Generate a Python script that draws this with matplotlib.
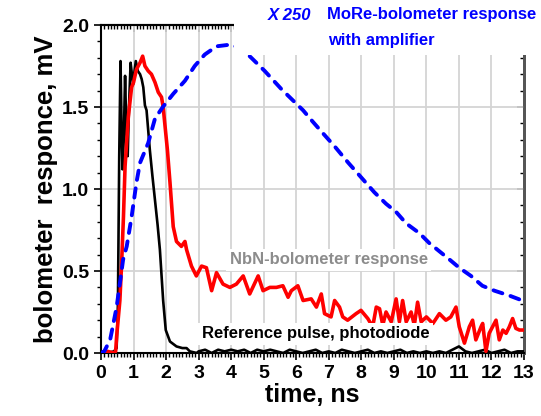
import numpy as np
import matplotlib
matplotlib.use('Agg')
import matplotlib.pyplot as plt
from matplotlib.patches import Rectangle
from matplotlib.ticker import MultipleLocator, NullFormatter

plt.rcParams['font.family'] = ['Liberation Sans', 'DejaVu Sans']
plt.rcParams['font.weight'] = 'bold'

# reference pulse (photodiode)
t_ref = [0, 0.2, 0.4, 0.48, 0.52, 0.56, 0.60, 0.63, 0.66, 0.70, 0.74, 0.78, 0.82,
         0.86, 0.91, 0.95, 0.99, 1.03, 1.07, 1.13, 1.20, 1.25, 1.30, 1.35, 1.40,
         1.45, 1.50, 1.58, 1.66, 1.74, 1.81, 1.91, 1.99, 2.12, 2.32, 2.50, 2.63,
         2.73, 2.94,
         3.0, 3.2, 3.4, 3.6, 3.8, 4.0, 4.2, 4.4, 4.6, 4.8, 5.0, 5.2, 5.4, 5.6,
         5.8, 6.0, 6.2, 6.4, 6.6, 6.8, 7.0, 7.2, 7.4, 7.6, 7.8, 8.0, 8.2, 8.4,
         8.6, 8.8, 9.0, 9.2, 9.4, 9.6, 9.8, 10.0, 10.2, 10.4, 10.6, 10.8, 11.0,
         11.2, 11.4, 11.6, 11.8, 12.0, 12.2, 12.4, 12.6, 12.8, 13.0]
v_ref = [0.01, 0.0, 0.01, 0.03, 0.30, 1.20, 1.78, 1.40, 1.12, 1.30, 1.69, 1.35, 1.20,
         1.50, 1.77, 1.70, 1.64, 1.72, 1.78, 1.72, 1.70, 1.67, 1.62, 1.51, 1.48,
         1.36, 1.24, 1.08, 0.93, 0.78, 0.63, 0.32, 0.14, 0.07, 0.04, 0.03, 0.03,
         0.01, 0.0,
         0.01, 0.02, 0.0, 0.02, 0.01, 0.02, 0.01, 0.02, 0.0, 0.02, 0.01, 0.02,
         0.01, 0.0, 0.02, 0.01, 0.0, 0.01, 0.02, 0.0, 0.01, 0.0, 0.02, 0.01,
         0.0, 0.01, 0.02, 0.0, 0.01, 0.0, 0.01, 0.02, 0.0, 0.01, 0.0, 0.01,
         0.0, 0.01, 0.0, 0.02, 0.04, 0.01, 0.0, 0.01, 0.02, 0.0, 0.01, 0.02,
         0.0, 0.01, 0.01]

# NbN bolometer response
t_nbn = [0, 0.2, 0.4, 0.45, 0.48, 0.58, 0.63, 0.69, 0.74, 0.84, 0.94, 1.0, 1.09,
         1.2, 1.28, 1.35, 1.45, 1.55, 1.66, 1.76, 1.86, 1.91, 1.96, 2.04, 2.12,
         2.22, 2.32, 2.47, 2.58, 2.63, 2.78, 2.93, 3.09, 3.24, 3.40, 3.55, 3.75,
         3.96, 4.16, 4.37, 4.57, 4.83, 4.98, 5.19, 5.39, 5.59, 5.75, 5.85, 6.05,
         6.21, 6.46, 6.62, 6.77, 6.87, 7.07, 7.18, 7.33, 7.43, 7.58, 7.84, 7.99,
         8.2, 8.35, 8.46, 8.56, 8.66, 8.76, 8.92, 9.07, 9.17, 9.27, 9.38, 9.53,
         9.63, 9.73, 9.84, 10.0, 10.2, 10.4, 10.6, 10.75, 10.91, 11.01, 11.17,
         11.32, 11.42, 11.52, 11.68, 11.73, 11.83, 11.93, 12.06, 12.14, 12.24,
         12.35, 12.45, 12.55, 12.65, 12.75, 12.86, 13.0]
v_nbn = [0.0, 0.01, 0.0, 0.01, 0.10, 0.32, 0.53, 0.83, 1.14, 1.44, 1.62, 1.65, 1.73,
         1.77, 1.81, 1.75, 1.72, 1.70, 1.65, 1.59, 1.56, 1.50, 1.40, 1.24, 1.04,
         0.77, 0.68, 0.65, 0.68, 0.63, 0.53, 0.47, 0.53, 0.52, 0.38, 0.49, 0.42,
         0.40, 0.42, 0.47, 0.36, 0.47, 0.38, 0.40, 0.40, 0.41, 0.34, 0.38, 0.41,
         0.32, 0.33, 0.28, 0.36, 0.24, 0.22, 0.32, 0.28, 0.22, 0.20, 0.24, 0.26,
         0.21, 0.16, 0.28, 0.27, 0.17, 0.25, 0.19, 0.33, 0.19, 0.32, 0.19, 0.25,
         0.17, 0.31, 0.19, 0.22, 0.18, 0.24, 0.20, 0.22, 0.28, 0.16, 0.06,
         0.16, 0.20, 0.08, 0.16, 0.18, 0.01, 0.12, 0.17, 0.20, 0.08,
         0.14, 0.12, 0.16, 0.21, 0.15, 0.14, 0.14]

# MoRe bolometer response with amplifier (x250)
t_more = [0, 0.1, 0.28, 0.48, 0.68, 0.79, 0.94, 1.09, 1.2, 1.45, 1.66, 1.9, 2.22,
          2.58, 2.88, 3.19, 3.55, 3.96, 4.3, 4.62, 5.03, 5.54, 5.9, 6.21, 6.51,
          6.82, 7.18, 7.6, 8.0, 8.4, 8.76, 9.07, 9.38, 9.79, 10.09, 10.4, 10.71,
          11.01, 11.37, 11.72, 12.09, 12.55, 12.95, 13.0]
v_more = [0.0, 0.01, 0.08, 0.28, 0.57, 0.65, 0.83, 1.04, 1.16, 1.28, 1.43, 1.50, 1.58,
          1.66, 1.75, 1.82, 1.87, 1.88, 1.86, 1.80, 1.72, 1.61, 1.54, 1.48, 1.41,
          1.34, 1.26, 1.16, 1.07, 0.98, 0.91, 0.86, 0.79, 0.73, 0.67, 0.62, 0.57,
          0.52, 0.47, 0.41, 0.38, 0.35, 0.32, 0.32]

fig = plt.figure(figsize=(5.41, 4.16), dpi=100)
ax = fig.add_axes([101/541, 63/416, 423/541, 328/416])

ax.plot(t_ref, v_ref, color='black', lw=1.9, zorder=3)
ax.plot(t_nbn, v_nbn, color='red', lw=2.6, zorder=4)
ax.plot(t_more, v_more, color='blue', lw=2.8, dashes=(2.4, 2.2),
        dash_capstyle='round', zorder=5)

ax.set_xlim(0, 13)
ax.set_ylim(0, 2)
ax.xaxis.set_major_locator(MultipleLocator(1))
ax.xaxis.set_minor_locator(MultipleLocator(0.1))
ax.set_yticks([0, 0.5, 1.0, 1.5, 2.0])
ax.set_yticklabels(['0.0', '0.5', '1.0', '1.5', '2.0'])
ax.yaxis.set_minor_locator(MultipleLocator(0.1))

# grid lines
for x in range(1, 13):
    ax.axvline(x, color='#d4d4d4', lw=1.3, zorder=1)
for y in [0.5, 1.0, 1.5]:
    ax.axhline(y, color='#d4d4d4', lw=1.3, zorder=1)

ax.tick_params(axis='both', which='major', labelsize=14, width=1.2,
               direction='out', length=5, top=False, right=False)
ax.tick_params(axis='both', which='minor', width=1.0, direction='out',
               length=3, top=False, right=False)
for lbl in ax.get_xticklabels() + ax.get_yticklabels():
    lbl.set_fontweight('bold')

# inward ticks on top and right
top = ax.secondary_xaxis('top')
top.xaxis.set_major_locator(MultipleLocator(1))
top.xaxis.set_minor_locator(MultipleLocator(0.1))
top.xaxis.set_major_formatter(NullFormatter())
top.tick_params(which='major', direction='in', length=5, width=1.2)
top.tick_params(which='minor', direction='in', length=3, width=1.0)
top.spines['top'].set_linewidth(1.5)
right = ax.secondary_yaxis('right')
right.yaxis.set_major_locator(MultipleLocator(0.5))
right.yaxis.set_minor_locator(MultipleLocator(0.1))
right.yaxis.set_major_formatter(NullFormatter())
right.tick_params(which='major', direction='in', length=5, width=1.2)
right.tick_params(which='minor', direction='in', length=3, width=1.0)
right.spines['right'].set_linewidth(2)
right.spines['right'].set_color('#555555')

for s in ['left', 'bottom', 'top']:
    ax.spines[s].set_linewidth(1.5)
ax.spines['right'].set_linewidth(2)
ax.spines['right'].set_color('#555555')

ax.set_xlabel('time, ns', fontsize=18, fontweight='bold', labelpad=1)
ax.set_ylabel('bolometer  responce, mV', fontsize=18.5, fontweight='bold', labelpad=3)

ax.text(7.0, 0.57, 'NbN-bolometer response', color='#8c8c8c', fontsize=12,
        fontweight='bold', ha='center', va='center', zorder=7,
        bbox=dict(facecolor='white', edgecolor='none', pad=2.5))
ax.text(6.6, 0.116, 'Reference pulse, photodiode', color='black', fontsize=12,
        fontweight='bold', ha='center', va='center', zorder=7,
        bbox=dict(facecolor='white', edgecolor='none', pad=2.5))

# white patch behind the top-right annotation
fig.patches.append(Rectangle((234/541, 1 - 55/416), 1, 55/416,
                             transform=fig.transFigure, facecolor='white',
                             edgecolor='none', zorder=5))
fig.text(268/541, 1 - 15/416, 'X 250', color='blue', fontsize=12,
         fontweight='bold', style='italic', va='center', ha='left', zorder=6)
fig.text(327/541, 1 - 15/416, 'MoRe-bolometer response', color='blue',
         fontsize=12, fontweight='bold', va='center', ha='left', zorder=6)
fig.text(328/541, 1 - 40/416, 'with amplifier', color='blue',
         fontsize=12, fontweight='bold', va='center', ha='left', zorder=6)

fig.savefig('out.png', dpi=100)
